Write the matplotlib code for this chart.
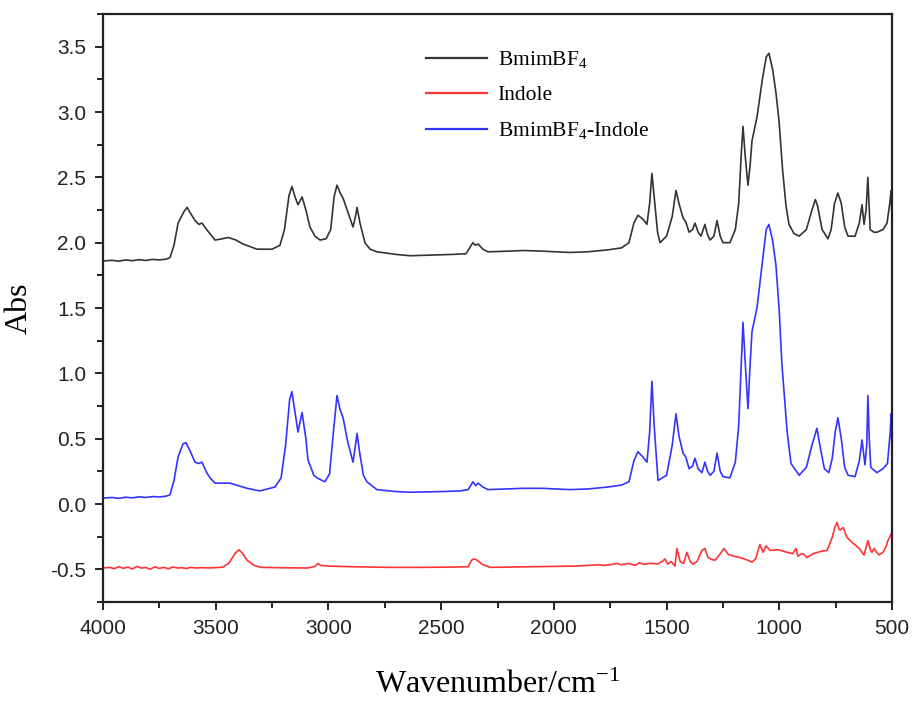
import matplotlib
matplotlib.use("Agg")
import matplotlib.pyplot as plt
from matplotlib.ticker import MultipleLocator

# ---------------- data ----------------
bmim_w = [4000, 3960, 3930, 3900, 3870, 3840, 3810, 3780, 3750, 3720, 3703, 3685, 3667, 3640, 3627,
          3610, 3592, 3575, 3561, 3540, 3503, 3470, 3445, 3410, 3379, 3317, 3250, 3215, 3195, 3175,
          3162, 3148, 3135, 3117, 3100, 3082, 3060, 3037, 3010, 2990, 2975, 2962, 2948, 2935, 2915,
          2891, 2880, 2873, 2860, 2838, 2815, 2785, 2700, 2638, 2550, 2450, 2390, 2370, 2359, 2348,
          2336, 2315, 2292, 2200, 2137, 2050, 1929, 1850, 1760, 1700, 1667, 1645, 1627, 1605, 1587,
          1575, 1565, 1555, 1540, 1529, 1500, 1475, 1458, 1445, 1427, 1415, 1400, 1385, 1374, 1360,
          1347, 1330, 1318, 1307, 1290, 1276, 1262, 1250, 1219, 1195, 1180, 1168, 1161, 1152, 1139,
          1130, 1121, 1099, 1075, 1058, 1046, 1030, 1015, 1001, 985, 970, 957, 935, 912, 880,
          855, 840, 830, 810, 784, 770, 755, 740, 725, 710, 695, 664, 645, 633, 624,
          615, 607, 601, 597, 580, 567, 540, 522, 510, 504, 500]
bmim_a = [1.860, 1.865, 1.858, 1.868, 1.862, 1.870, 1.864, 1.872, 1.868, 1.874, 1.885, 1.98, 2.15, 2.24, 2.27,
          2.22, 2.17, 2.14, 2.15, 2.10, 2.02, 2.03, 2.04, 2.02, 1.99, 1.95, 1.95, 1.98, 2.10, 2.36,
          2.43, 2.35, 2.29, 2.35, 2.25, 2.12, 2.05, 2.02, 2.03, 2.10, 2.35, 2.44, 2.38, 2.34, 2.24,
          2.12, 2.20, 2.27, 2.15, 2.00, 1.95, 1.93, 1.91, 1.90, 1.905, 1.91, 1.915, 1.97, 2.00, 1.98,
          1.99, 1.95, 1.93, 1.935, 1.94, 1.935, 1.925, 1.93, 1.945, 1.96, 2.00, 2.15, 2.21, 2.18, 2.14,
          2.30, 2.53, 2.35, 2.08, 2.00, 2.05, 2.20, 2.40, 2.30, 2.19, 2.16, 2.08, 2.10, 2.15, 2.08,
          2.05, 2.14, 2.06, 2.02, 2.05, 2.17, 2.05, 2.00, 2.00, 2.10, 2.30, 2.70, 2.89, 2.68, 2.44,
          2.58, 2.78, 2.96, 3.25, 3.42, 3.45, 3.33, 3.15, 2.93, 2.55, 2.28, 2.14, 2.07, 2.05, 2.10,
          2.25, 2.33, 2.28, 2.10, 2.03, 2.10, 2.30, 2.38, 2.30, 2.12, 2.05, 2.05, 2.15, 2.29, 2.14,
          2.25, 2.50, 2.25, 2.10, 2.08, 2.08, 2.10, 2.15, 2.30, 2.40, 2.18]

indole_w = [4000, 3970, 3950, 3930, 3910, 3890, 3870, 3850, 3830, 3810, 3790, 3770, 3750, 3730, 3710,
            3690, 3670, 3650, 3630, 3610, 3590, 3560, 3530, 3490, 3468, 3440, 3415, 3397, 3380, 3361,
            3330, 3300, 3200, 3093, 3060, 3046, 3035, 3000, 2900, 2727, 2600, 2450, 2380, 2365, 2355,
            2340, 2320, 2283, 2200, 2100, 1973, 1900, 1850, 1800, 1780, 1740, 1720, 1700, 1670, 1640,
            1620, 1600, 1580, 1560, 1540, 1520, 1507, 1495, 1480, 1463, 1454, 1440, 1425, 1410, 1395,
            1383, 1365, 1343, 1330, 1316, 1300, 1285, 1270, 1245, 1227, 1200, 1174, 1140, 1121, 1105,
            1086, 1072, 1059, 1041, 1006, 985, 966, 940, 926, 917, 905, 895, 877, 850, 810,
            788, 775, 766, 752, 744, 736, 731, 717, 700, 673, 645, 633, 624, 607, 596,
            589, 580, 568, 558, 540, 525, 518, 500]
indole_a = [-0.490, -0.485, -0.495, -0.480, -0.492, -0.483, -0.497, -0.478, -0.490, -0.486, -0.499, -0.481, -0.493, -0.485, -0.496,
            -0.482, -0.490, -0.487, -0.494, -0.484, -0.490, -0.487, -0.489, -0.486, -0.483, -0.450, -0.380, -0.350, -0.380, -0.430,
            -0.470, -0.485, -0.488, -0.490, -0.478, -0.455, -0.470, -0.475, -0.480, -0.485, -0.485, -0.483, -0.480, -0.430, -0.420,
            -0.430, -0.460, -0.485, -0.483, -0.480, -0.477, -0.475, -0.470, -0.465, -0.470, -0.462, -0.455, -0.465, -0.455, -0.470,
            -0.450, -0.462, -0.455, -0.455, -0.460, -0.440, -0.420, -0.460, -0.440, -0.475, -0.340, -0.440, -0.455, -0.370, -0.440,
            -0.460, -0.440, -0.355, -0.340, -0.410, -0.425, -0.430, -0.400, -0.340, -0.385, -0.400, -0.410, -0.430, -0.445, -0.420,
            -0.310, -0.370, -0.320, -0.355, -0.350, -0.360, -0.370, -0.380, -0.340, -0.400, -0.385, -0.380, -0.410, -0.380, -0.360,
            -0.355, -0.300, -0.260, -0.170, -0.140, -0.190, -0.200, -0.180, -0.255, -0.300, -0.340, -0.370, -0.390, -0.280, -0.350,
            -0.370, -0.340, -0.370, -0.390, -0.370, -0.320, -0.280, -0.220]

mix_w = [4000, 3960, 3930, 3900, 3870, 3840, 3810, 3780, 3750, 3720, 3703, 3685, 3667, 3645, 3632,
         3612, 3592, 3575, 3561, 3540, 3525, 3503, 3437, 3361, 3304, 3237, 3210, 3190, 3172, 3162,
         3148, 3135, 3117, 3100, 3091, 3065, 3051, 3016, 2995, 2978, 2962, 2948, 2935, 2915, 2891,
         2880, 2873, 2862, 2845, 2829, 2785, 2700, 2638, 2500, 2416, 2380, 2359, 2347, 2336, 2315,
         2292, 2137, 2050, 1929, 1850, 1760, 1700, 1667, 1645, 1627, 1605, 1587, 1575, 1565, 1555,
         1538, 1500, 1475, 1458, 1445, 1427, 1415, 1400, 1385, 1374, 1360, 1343, 1330, 1318, 1307,
         1290, 1276, 1262, 1250, 1219, 1195, 1180, 1168, 1161, 1152, 1139, 1130, 1121, 1099, 1075,
         1058, 1046, 1030, 1015, 1001, 988, 965, 948, 912, 880, 855, 833, 820, 800, 780,
         765, 752, 740, 725, 710, 695, 664, 645, 633, 620, 612, 607, 601, 594, 567,
         540, 520, 508, 504, 500]
mix_a = [0.045, 0.050, 0.043, 0.052, 0.047, 0.055, 0.050, 0.057, 0.054, 0.060, 0.070, 0.18, 0.36, 0.46, 0.47,
         0.40, 0.32, 0.31, 0.32, 0.24, 0.20, 0.16, 0.16, 0.12, 0.10, 0.13, 0.20, 0.45, 0.80, 0.86,
         0.70, 0.55, 0.70, 0.50, 0.34, 0.22, 0.20, 0.17, 0.23, 0.55, 0.83, 0.72, 0.66, 0.48, 0.32,
         0.45, 0.54, 0.40, 0.22, 0.17, 0.11, 0.095, 0.09, 0.095, 0.10, 0.11, 0.17, 0.14, 0.16, 0.13,
         0.11, 0.12, 0.12, 0.11, 0.115, 0.13, 0.145, 0.17, 0.33, 0.40, 0.36, 0.32, 0.55, 0.94, 0.60,
         0.18, 0.22, 0.45, 0.69, 0.52, 0.39, 0.36, 0.27, 0.29, 0.35, 0.27, 0.24, 0.32, 0.25, 0.22,
         0.25, 0.39, 0.25, 0.21, 0.20, 0.32, 0.60, 1.10, 1.39, 1.11, 0.73, 1.05, 1.32, 1.50, 1.85,
         2.10, 2.14, 2.02, 1.83, 1.50, 1.06, 0.55, 0.31, 0.22, 0.28, 0.45, 0.58, 0.45, 0.27, 0.24,
         0.35, 0.55, 0.66, 0.50, 0.28, 0.22, 0.21, 0.33, 0.49, 0.30, 0.45, 0.83, 0.50, 0.28, 0.24,
         0.27, 0.31, 0.55, 0.69, 0.40]

series_labels = ["BmimBF$_\\mathregular{4}$", "Indole", "BmimBF$_\\mathregular{4}$-Indole"]
x_label = "Wavenumber/cm$^\\mathregular{-1}$"
y_label = "Abs"
x_ticks = [4000, 3500, 3000, 2500, 2000, 1500, 1000, 500]
y_ticks = [-0.5, 0.0, 0.5, 1.0, 1.5, 2.0, 2.5, 3.0, 3.5]

# ---------------- style ----------------
plt.rcParams['mathtext.fontset'] = 'custom'
plt.rcParams['mathtext.rm'] = 'Liberation Serif'
plt.rcParams['mathtext.it'] = 'Liberation Serif:italic'

fig = plt.figure(figsize=(9.15, 7.11), dpi=100)
ax = fig.add_axes([103/915, 1-602/711, (892-103)/915, (602-14)/711])

ax.plot(bmim_w, bmim_a, color='#333333', lw=1.2, label=series_labels[0], solid_joinstyle='round')
ax.plot(indole_w, indole_a, color='#ff3333', lw=1.2, label=series_labels[1], solid_joinstyle='round')
ax.plot(mix_w, mix_a, color='#3333ff', lw=1.2, label=series_labels[2], solid_joinstyle='round')

ax.set_xlim(4000, 500)
ax.set_ylim(-0.75, 3.75)
ax.set_xticks(x_ticks)
ax.set_yticks(y_ticks)
ax.set_yticklabels([f"{v:.1f}" for v in y_ticks])
ax.xaxis.set_minor_locator(MultipleLocator(250))
ax.yaxis.set_minor_locator(MultipleLocator(0.25))
ax.tick_params(which='both', direction='out', top=False, right=False, color='#222222', width=1.4)
ax.tick_params(which='major', length=6, labelsize=15, labelcolor='#222222', pad=6)
ax.tick_params(which='minor', length=4)
for lab in ax.get_xticklabels() + ax.get_yticklabels():
    lab.set_family('Liberation Sans')
for sp in ax.spines.values():
    sp.set_linewidth(1.6)
    sp.set_color('#222222')

ax.set_xlabel(x_label, family='Liberation Serif', fontsize=23, labelpad=24)
ax.set_ylabel(y_label, family='Liberation Serif', fontsize=23, labelpad=12)

leg = ax.legend(loc='upper left', bbox_to_anchor=(0.41, 0.94), frameon=False,
                prop={'family': 'Liberation Serif', 'size': 15.5},
                handlelength=2.8, handletextpad=0.5, labelspacing=0.7,
                borderpad=0, borderaxespad=0)
for h in leg.get_lines():
    h.set_linewidth(1.6)

fig.savefig("out.png", dpi=100)
